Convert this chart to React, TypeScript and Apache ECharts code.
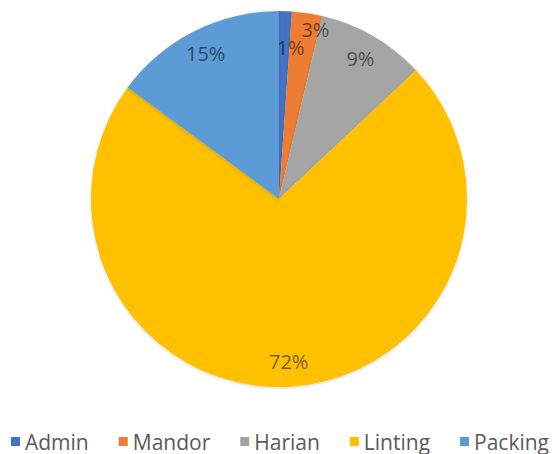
import React, { useEffect, useRef } from "react";
import * as echarts from "echarts";

const categories = ["Admin", "Mandor", "Harian", "Linting", "Packing"];
const values = [1.1, 2.6, 9.3, 72.1, 14.9];
const colors = ["#4472C4", "#ED7D31", "#A5A5A5", "#FFC000", "#5B9BD5"];

export default function App() {
  const ref = useRef<HTMLDivElement>(null);
  useEffect(() => {
    if (!ref.current) return;
    const chart = echarts.init(ref.current, null, { renderer: "svg" });
    const data = categories.map((name, i) => ({
      name,
      value: values[i],
      itemStyle: { color: colors[i] },
    }));
    const labelOffsets: Record<string, number[]> = {
      Admin: [6, 11],
      Mandor: [12, -9],
    };
    const labelData = categories.map((name, i) => ({
      name,
      value: values[i],
      label: labelOffsets[name] ? { offset: labelOffsets[name] } : undefined,
    }));
    chart.setOption({
      animation: false,
      legend: {
        data: categories,
        top: 426,
        left: "center",
        icon: "rect",
        itemWidth: 9,
        itemHeight: 9,
        itemGap: 30,
        textStyle: {
          fontFamily: "Open Sans",
          fontSize: 21,
          color: "#595959",
        },
      },
      series: [
        {
          type: "pie",
          center: [279, 199],
          radius: [0, 188],
          startAngle: 90,
          label: { show: false },
          labelLine: { show: false },
          itemStyle: {
            shadowBlur: 3,
            shadowColor: "rgba(0,0,0,0.18)",
            shadowOffsetY: 1,
          },
          data,
          silent: true,
        },
        {
          type: "pie",
          center: [279, 199],
          radius: [131, 188],
          startAngle: 90,
          silent: true,
          avoidLabelOverlap: false,
          labelLayout: { hideOverlap: false },
          itemStyle: { color: "rgba(0,0,0,0)" },
          label: {
            show: true,
            position: "inside",
            fontFamily: "Open Sans",
            fontSize: 20,
            color: "rgba(0,0,0,0.55)",
            formatter: (p: any) => Math.round(p.percent) + "%",
          },
          labelLine: { show: false },
          data: labelData,
        },
      ],
    });
    return () => chart.dispose();
  }, []);
  return (
    <div
      ref={ref}
      style={{ position: "fixed", left: 0, top: 0, width: 560, height: 454, background: "#fff" }}
    />
  );
}
